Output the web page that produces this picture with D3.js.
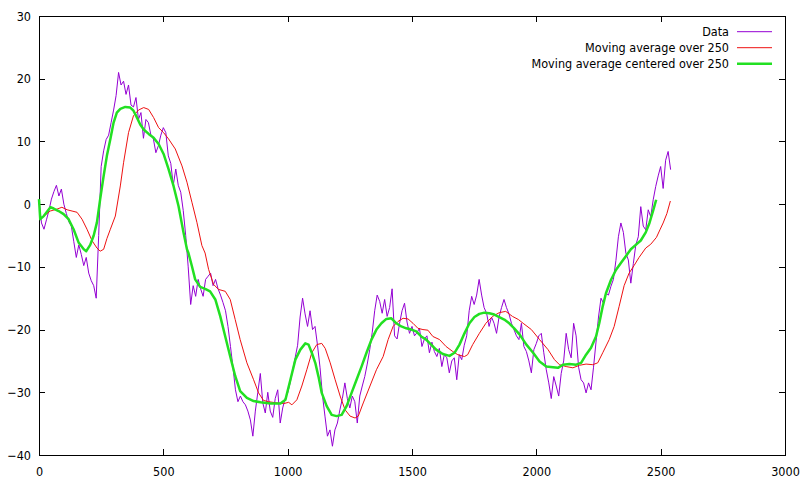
<!DOCTYPE html>
<html>
<head>
<meta charset="utf-8">
<script src="https://cdn.jsdelivr.net/npm/d3@7"></script>
<style>
  body { margin: 0; background: #fff; }
  svg { display: block; }
  .axis text { font-family: "DejaVu Sans Condensed", "DejaVu Sans", sans-serif; font-stretch: condensed; font-size: 12.5px; fill: #000; }
  .axis line { stroke: #000; }
  .legend text { font-family: "DejaVu Sans Condensed", "DejaVu Sans", sans-serif; font-stretch: condensed; font-size: 12.5px; fill: #000; }
</style>
</head>
<body>
<svg id="chart" width="806" height="487"></svg>
<script>
// raw data, one value every 10 units on x (0..2540)
var dataStep = 10;
var dataValues = [
  0.5, -3, -4, -2.5, -1, 0.8, 2, 3, 1.3, 2.4,
  0, -1.5, -2.8, -3.5, -6, -8.5, -6.5, -8, -9.8, -8.5,
  -11, -12.2, -13, -15, -5, 6, 8.5, 10.3, 11, 13,
  15, 17.3, 21, 19, 19.6, 17.5, 19, 15.8, 15.5, 17,
  13.5, 14.6, 10.5, 13.5, 13, 11, 10.4, 8.2, 9.3, 11,
  12.2, 11.4, 7.7, 6.5, 3, 5.6, 3, 1.9, -1, -5,
  -10, -16, -13, -14.7, -12, -13.5, -14.7, -12, -11.5, -11,
  -13, -12, -13.5, -14.5, -15.7, -17, -19.5, -22.7, -26, -29.6,
  -31.5, -30.6, -31.5, -32, -33, -34.4, -37, -33, -30, -27,
  -31.7, -33.3, -30, -33, -34, -31, -29.6, -34.9, -32.5, -31,
  -30.1, -28.5, -26.5, -24.5, -22.5, -18, -15, -17.5, -19.5, -17,
  -20, -19.5, -22.5, -26, -30.5, -33.8, -37, -36, -38.6, -36,
  -34.9, -32.8, -31, -28.5, -31, -32.5, -30.6, -31.5, -34.9, -30.6,
  -29, -27.5, -25.5, -23.2, -20.5, -17, -14.5, -15.5, -17.4, -15.2,
  -17.9, -16.5, -13.5, -21, -21.5, -19, -17, -15.8, -18.8, -20.6,
  -19.5, -21, -20.5, -19.8, -22.7, -21.5, -21, -23.7, -22, -23.5,
  -24.3, -23, -25.9, -24, -24.5, -26.9, -25, -24.5, -28, -24,
  -24.8, -22.5, -21, -17, -14.7, -16, -14.5, -12, -14.5, -16.5,
  -17.4, -19.5, -18, -19, -20.6, -18, -16.5, -15.2, -16.5, -17.5,
  -19, -20, -21, -21.6, -19, -22.7, -23.5, -25, -26.9, -23.2,
  -22.2, -21, -20.6, -23.7, -26.4, -28.5, -31, -27.5, -29, -30.6,
  -27, -25, -20.6, -23.2, -24.5, -19, -21, -26, -28, -28.5,
  -30.1, -28.5, -29.6, -26, -22, -18, -15, -15.8, -14.2, -14.5,
  -13.1, -12, -9, -5.2, -3, -4.5, -7.8, -8.9, -12.6, -9.5,
  -6.5, -5.2, -0.4, -3.5, -4.1, -0.9, -2, 0.7, 2.8, 4.5,
  6, 2.5, 7, 8.4, 5.5
];

// trailing moving average over 250 as [x, y]
var movingAvg = [
  [0,-2.4],[20,-1.9],[45,-1.1],[72,-0.8],[92,-0.5],[113,-0.9],[133,-1.1],[153,-1.3],
  [173,-2.4],[193,-4],[213,-5.8],[233,-7],[246,-7.5],[260,-7.2],[273,-5.5],[287,-4],
  [307,-1.9],[327,2.9],[340,6.6],[360,11.4],[380,14.1],[400,15],[421,15.4],[441,15.1],
  [461,13.8],[481,12.2],[501,11.4],[521,10.4],[548,8.8],[575,6.1],[595,3.5],[615,0.3],
  [635,-2.9],[655,-6.6],[668,-7.8],[682,-10.4],[702,-12.8],[722,-13.6],[749,-13.9],
  [769,-15.2],[789,-18.4],[809,-21.6],[836,-25.3],[863,-28],[883,-30.1],[903,-31.3],
  [923,-31.5],[957,-31.7],[984,-31.8],[1004,-31.6],[1017,-32],[1037,-31.2],[1057,-29],
  [1077,-26.4],[1097,-23.7],[1117,-22.4],[1137,-22.2],[1151,-23],[1171,-25.3],[1191,-28],
  [1211,-30.6],[1231,-32.8],[1251,-33.8],[1271,-34.1],[1284,-33.8],[1304,-31.7],[1331,-29],
  [1357,-26.4],[1384,-24.3],[1404,-21.6],[1424,-19.5],[1444,-18.7],[1464,-18.2],[1484,-18.3],
  [1504,-19],[1524,-19.8],[1544,-20],[1564,-20.1],[1584,-21.1],[1611,-21.6],[1637,-22.7],
  [1664,-23.5],[1684,-24],[1711,-24.3],[1724,-24],[1744,-22.4],[1771,-20.6],[1797,-19],
  [1824,-17.9],[1851,-17.3],[1877,-17.1],[1904,-17.9],[1928,-18.4],[1947,-19],[1980,-20],
  [2013,-21.6],[2047,-23.2],[2073,-24.8],[2093,-25.6],[2120,-25.9],[2147,-26.1],[2173,-25.7],
  [2200,-25.5],[2227,-25.6],[2247,-25.3],[2267,-23.7],[2293,-21.6],[2313,-19.5],[2333,-16.3],
  [2353,-13],[2373,-11],[2393,-9.8],[2413,-8.5],[2440,-7],[2460,-6.4],[2483,-5.3],
  [2497,-4.1],[2510,-3],[2525,-1.5],[2539,0.5]
];

// centered moving average over 250
var movingAvgCentered = [
  [0,0.8],[5,-2.4],[19,-1.9],[46,-0.5],[59,-0.7],[79,-1.1],[99,-1.6],[119,-2.4],[139,-4],
  [159,-6.1],[180,-7.2],[190,-7.5],[206,-6.5],[220,-5],[233,-2.9],[246,0.8],[260,4.5],
  [273,7.7],[287,10.4],[300,13],[313,14.6],[327,15.2],[347,15.5],[367,15.4],[380,14.9],
  [394,13.8],[407,12.7],[421,11.9],[441,11.2],[461,10.6],[481,9.6],[501,8],[521,5.6],
  [541,2.9],[561,-0.3],[581,-4.5],[595,-7.2],[601,-7.8],[615,-9.9],[628,-12],[648,-13.2],
  [668,-13.5],[688,-13.9],[709,-15.2],[729,-17.9],[749,-21.1],[769,-24.3],[789,-27.4],
  [809,-29.8],[836,-30.9],[863,-31.4],[891,-31.6],[931,-31.8],[971,-31.8],[991,-31.2],
  [1011,-28],[1031,-24.8],[1051,-23.2],[1071,-22.2],[1084,-22.4],[1097,-23.7],[1111,-25.3],
  [1124,-27.5],[1137,-30.1],[1157,-32.2],[1177,-33.6],[1197,-33.8],[1217,-33.6],[1237,-32.2],
  [1257,-30.1],[1277,-28],[1297,-25.9],[1317,-23.7],[1337,-21.6],[1357,-20],[1377,-19],
  [1397,-18.3],[1417,-18.2],[1437,-19],[1457,-19.5],[1477,-19.8],[1497,-20],[1517,-20.3],
  [1537,-21.1],[1557,-21.6],[1577,-22.4],[1597,-23.2],[1624,-23.9],[1651,-24.2],[1671,-23.7],
  [1691,-22.4],[1711,-20.6],[1731,-19],[1751,-18],[1771,-17.5],[1791,-17.3],[1811,-17.4],
  [1831,-17.6],[1851,-18],[1871,-18.4],[1891,-19],[1911,-19.8],[1933,-20.8],[1960,-22.4],
  [1987,-23.7],[2013,-25.1],[2040,-25.9],[2067,-26],[2087,-26.1],[2107,-25.6],[2133,-25.5],
  [2160,-25.6],[2180,-25.3],[2200,-24],[2220,-22.9],[2240,-21.1],[2253,-19],[2267,-16.3],
  [2280,-14.2],[2300,-12.1],[2320,-10.5],[2340,-9.4],[2360,-8.3],[2380,-7.2],[2400,-6.5],
  [2420,-5.8],[2440,-4.5],[2455,-3],[2470,-1],[2482,0.7]
];

var xTicks = [0, 500, 1000, 1500, 2000, 2500, 3000];
var yTicks = [-40, -30, -20, -10, 0, 10, 20, 30];
var seriesNames = ['Data', 'Moving average over 250', 'Moving average centered over 250'];
var seriesColors = ['#9400d3', '#ee1111', '#22e022'];
var seriesWidths = [1, 1, 2.5];

var svg = d3.select('#chart');
var margin = {t: 16, r: 21, b: 32, l: 39};
var width = 806 - margin.l - margin.r,
    height = 487 - margin.t - margin.b;

var chartG = svg.append('g')
    .attr('transform', 'translate(' + margin.l + ',' + margin.t + ')');

var xScale = d3.scaleLinear().domain([0, 3000]).range([0, width]);
var yScale = d3.scaleLinear().domain([-40, 30]).range([height, 0]);
var fmt = d3.format('d');

// axes, ticks pointing inward on all four sides
chartG.append('g').attr('class', 'axis')
    .attr('transform', 'translate(0,' + height + ')')
    .call(d3.axisBottom(xScale).tickValues(xTicks).tickFormat(fmt).tickSizeInner(-6).tickSizeOuter(0).tickPadding(12));
chartG.append('g').attr('class', 'axis')
    .call(d3.axisTop(xScale).tickValues(xTicks).tickSizeInner(-6).tickSizeOuter(0).tickFormat(''));
chartG.append('g').attr('class', 'axis')
    .call(d3.axisLeft(yScale).tickValues(yTicks).tickFormat(fmt).tickSizeInner(-6).tickSizeOuter(0).tickPadding(8));
chartG.append('g').attr('class', 'axis')
    .attr('transform', 'translate(' + width + ',0)')
    .call(d3.axisRight(yScale).tickValues(yTicks).tickSizeInner(-6).tickSizeOuter(0).tickFormat(''));
chartG.selectAll('.axis .domain').remove();
chartG.selectAll('.axis .tick line').attr('shape-rendering', 'crispEdges');

chartG.append('rect')
    .attr('width', width)
    .attr('height', height)
    .attr('fill', 'none')
    .attr('stroke', '#000')
    .attr('shape-rendering', 'crispEdges');

var line = d3.line()
    .x(function(d) { return xScale(d[0]); })
    .y(function(d) { return yScale(d[1]); });

var dataPoints = dataValues.map(function(v, i) { return [i * dataStep, v]; });
var allSeries = [dataPoints, movingAvg, movingAvgCentered];

chartG.selectAll('path.series')
    .data(allSeries)
    .enter()
    .append('path')
    .attr('class', 'series')
    .attr('d', line)
    .attr('fill', 'none')
    .attr('stroke', function(d, i) { return seriesColors[i]; })
    .attr('stroke-width', function(d, i) { return seriesWidths[i]; })
    .attr('stroke-linejoin', 'round');

// legend, top right
var legend = svg.append('g').attr('class', 'legend');
var rows = legend.selectAll('g')
    .data(seriesNames)
    .enter()
    .append('g')
    .attr('transform', function(d, i) { return 'translate(0,' + (31.7 + i * 16) + ')'; });
rows.append('text')
    .attr('x', 729)
    .attr('dy', '0.35em')
    .attr('text-anchor', 'end')
    .text(function(d) { return d; });
rows.append('line')
    .attr('x1', 737)
    .attr('x2', 772)
    .attr('stroke', function(d, i) { return seriesColors[i]; })
    .attr('stroke-width', function(d, i) { return seriesWidths[i]; });
</script>
</body>
</html>
